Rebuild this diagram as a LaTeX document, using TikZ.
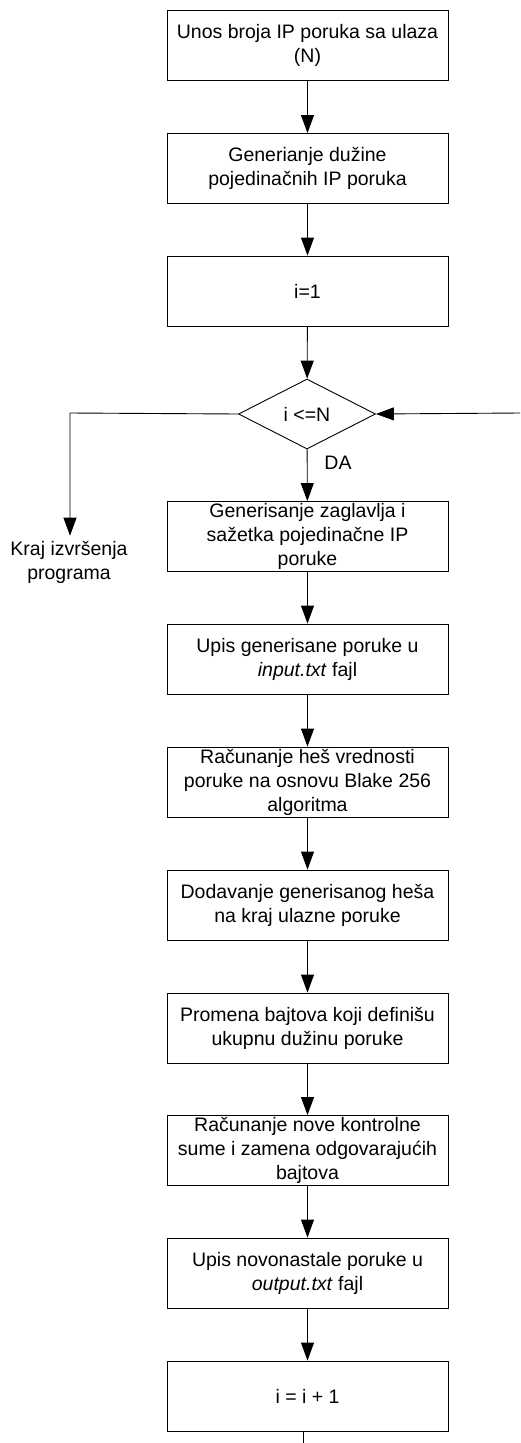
\documentclass[tikz,border=0pt]{standalone}
\usepackage{fontspec}
\setmainfont{Liberation Sans}
\usetikzlibrary{arrows.meta,shapes.geometric}
\begin{document}
\begin{tikzpicture}[x=1pt,y=-1pt,
  font=\fontsize{19.5}{24}\selectfont,
  stepbox/.style={draw, line width=0.9pt, minimum width=281pt, minimum height=70pt,
                  align=center, inner sep=0pt},
  decision/.style={draw, diamond, line width=0.9pt, minimum width=137pt,
                   minimum height=70pt, inner sep=0pt},
  flow/.style={line width=0.9pt, -{Triangle[length=18pt,width=13pt]}},
  plain/.style={line width=0.9pt}]
\useasboundingbox (0,0) rectangle (520,1443);

% process steps
\node[stepbox] (b1) at (307.5,45.5) {Unos broja IP poruka sa ulaza\\(N)};
\node[stepbox] (b2) at (307.5,168.5) {Generianje dužine\\pojedinačnih IP poruka};
\node[stepbox] (b3) at (307.5,291) {i=1};
\node[decision] (dec) at (307,414) {i <=N};
\node[stepbox] (b4) at (307.5,536.5) {Generisanje zaglavlja i\\sažetka pojedinačne IP\\poruke};
\node[stepbox] (b5) at (307.5,659) {Upis generisane poruke u\\\textit{input.txt} fajl};
\node[stepbox] (b6) at (307.5,782) {Računanje heš vrednosti\\poruke na osnovu Blake 256\\algoritma};
\node[stepbox] (b7) at (307.5,905) {Dodavanje generisanog heša\\na kraj ulazne poruke};
\node[stepbox] (b8) at (307.5,1028) {Promena bajtova koji definišu\\ukupnu dužinu poruke};
\node[stepbox] (b9) at (307.5,1150.5) {Računanje nove kontrolne\\sume i zamena odgovarajućih\\bajtova};
\node[stepbox] (b10) at (307.5,1273) {Upis novonastale poruke u\\\textit{output.txt} fajl};
\node[stepbox] (b11) at (307.5,1396) {i = i + 1};

% end of program and branch label
\node[align=center, inner sep=5pt] (kraj) at (69,562) {Kraj izvršenja\\programa};
\node[inner sep=0pt] (da) at (338,463) {DA};

% loose ends of the loop
\coordinate (loopin) at (520,413);
\coordinate (loopout) at (303,1443);
\coordinate (corner) at (70,413);

% connectors
\draw[flow] (b1) -- (b2);
\draw[flow] (b2) -- (b3);
\draw[flow] (b3) -- (dec);
\draw[flow] (dec) -- (b4);
\draw[flow] (b4) -- (b5);
\draw[flow] (b5) -- (b6);
\draw[flow] (b6) -- (b7);
\draw[flow] (b7) -- (b8);
\draw[flow] (b8) -- (b9);
\draw[flow] (b9) -- (b10);
\draw[flow] (b10) -- (b11);
\draw[flow] (dec.west) -- (corner) -- (corner |- kraj.north);
\draw[flow] (loopin) -- (dec.east);
\draw[plain] (b11.south -| loopout) -- (loopout);
\end{tikzpicture}
\end{document}
